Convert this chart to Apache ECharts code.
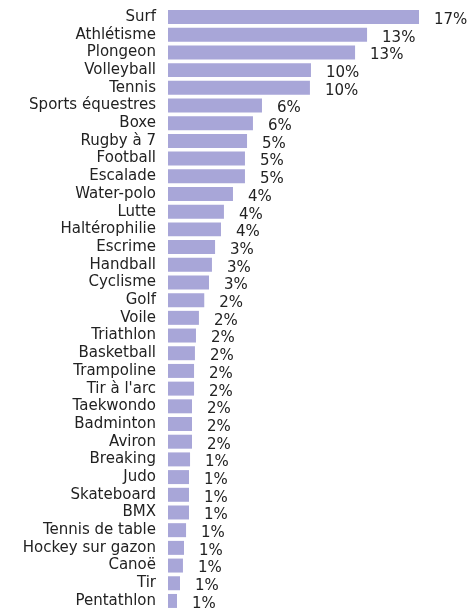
<!DOCTYPE html>
<html><head><meta charset="utf-8">
<script src="https://cdn.jsdelivr.net/npm/echarts@6/dist/echarts.min.js"></script>
<style>html,body{margin:0;padding:0;background:#fff}#c{width:469px;height:610px}</style>
</head><body><div id="c"></div>
<script>
const categories = ["Surf","Athlétisme","Plongeon","Volleyball","Tennis","Sports équestres","Boxe","Rugby à 7","Football","Escalade","Water-polo","Lutte","Haltérophilie","Escrime","Handball","Cyclisme","Golf","Voile","Triathlon","Basketball","Trampoline","Tir à l'arc","Taekwondo","Badminton","Aviron","Breaking","Judo","Skateboard","BMX","Tennis de table","Hockey sur gazon","Canoë","Tir","Pentathlon"];
const values = [16.96,13.45,12.64,9.66,9.59,6.35,5.74,5.34,5.2,5.2,4.39,3.78,3.58,3.18,2.97,2.77,2.45,2.09,1.89,1.82,1.76,1.76,1.62,1.62,1.62,1.49,1.42,1.42,1.42,1.22,1.08,1.01,0.81,0.61];
const chart = echarts.init(document.getElementById('c'));
chart.setOption({
  animation:false,
  grid:{left:168,top:8.2,bottom:0.2,width:296},
  xAxis:{type:'value',min:0,max:20,show:false},
  yAxis:{type:'category',data:categories,inverse:true,
    axisLine:{show:false},axisTick:{show:false},
    axisLabel:{interval:0,hideOverlap:false,margin:12,fontSize:15,lineHeight:15,color:'#222',fontFamily:'DejaVu Sans'}},
  series:[{type:'bar',data:values,barCategoryGap:'21%',
    itemStyle:{color:'#a8a6d8'},
    label:{show:true,position:'right',distance:15,offset:[0,3],fontSize:15,color:'#222',fontFamily:'DejaVu Sans',
      formatter:p=>Math.round(p.value)+'%'}}]
});
</script></body></html>
